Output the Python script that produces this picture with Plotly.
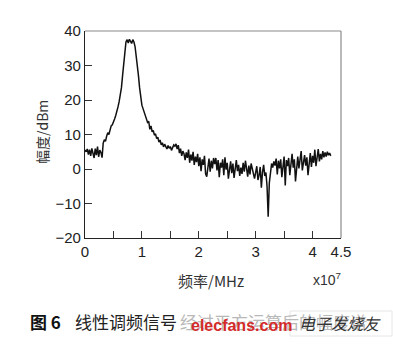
import plotly.graph_objects as go

# amplitude spectrum (dBm), sampled every 0.02 x 1e7 Hz starting at 0
amp_dbm = [
    5.5, 5, 5.8, 4.2, 5.6, 3.8, 6, 4.5, 3.2, 5.9,
    4, 6.5, 3.5, 5.5, 4.8, 3.3, 7.5, 8.5, 8, 9.5,
    10.5, 10, 11.5, 12.5, 12.8, 13.5, 14.5, 15.5, 16.5, 18,
    19.5, 21, 23.5, 27, 31, 34.5, 36.8, 37.5, 36.5, 37.6,
    37, 36.4, 37.5, 36.8, 35.5, 33, 30, 27, 23.5, 20.5,
    18.5, 17.5, 16.5, 15.8, 14.5, 13.5, 13.8, 11.5, 12.5, 10.8,
    11.2, 9.8, 10.2, 8.8, 9.2, 7.8, 8.4, 7, 7.6, 6.4,
    7.2, 6.6, 5.8, 6.8, 6, 6.5, 5.4, 6.2, 7, 6.6,
    7.3, 5.8, 6.9, 4.6, 5.9, 3.8, 5.2, 4.4, 2.6, 4.8,
    3.2, 5.6, 1.8, 4.2, 2.4, 5, 1.2, 3.6, 2, 4.4,
    0.8, 3.4, -0.6, 2.8, 1.2, 3.8, -1.4, -2.2, 1.6, 3,
    -0.8, 2.4, 0.2, 3.2, 1.4, 3.2, -0.4, 2.6, -2.4, 1.8,
    0.4, 2.8, -1.8, 3.4, -0.2, 1.8, -2.8, 0.6, 2.2, -1.2,
    1.6, -2.6, 0.8, 2.6, -0.6, 1.2, -2, 0.4, -1.4, 1.8,
    -0.8, 2.4, 0.2, -2.2, 1, -1.6, 1.6, 0.4, -0.8, -2.8,
    -1, 0.8, -3.2, -1.8, 0.6, -5.4, -1, 1.2, -2, -1,
    -5, -13.8, -4, -0.8, 1.6, 0.4, 2.2, 1, 3, -1.6,
    2.4, 0.2, 2.8, -2.4, 1.8, 3.6, -4.8, 2.6, 0.8, 3.2,
    -1.8, 2, 4.4, 0.4, 2.8, -3.6, 1.2, 3.6, 0.2, 2.4,
    5.2, -0.4, 2, 4, 1, 3.4, -1.8, 2.6, 4.6, 0.6,
    3.8, 1.8, 5.6, 0.8, 3, 5.8, 2.2, 4.4, 2.8, 5.2,
    3.4, 4.8, 3.6, 5, 4, 4.6, 3.8,
]
freq_step = 0.02
freq_e7 = [round(i * freq_step, 2) for i in range(len(amp_dbm))]

x_tickvals = [0, 0.5, 1, 1.5, 2, 2.5, 3, 3.5, 4, 4.5]
x_ticktext = ["0", "", "1", "", "2", "", "3", "", "4", "4.5"]
y_tickvals = [-20, -10, 0, 10, 20, 30, 40]

L, R, T, B = 85, 341, 31, 238
W, H = 393, 345


def px(xp):
    return (xp - L) / (R - L)


def py(yp):
    return (B - yp) / (B - T)


fig = go.Figure()
fig.add_trace(go.Scatter(
    x=freq_e7, y=amp_dbm, mode="lines",
    line=dict(color="#111111", width=1.5),
    hoverinfo="skip", showlegend=False,
))

tick_font = dict(family="Liberation Sans, Arial, sans-serif", size=15, color="#222222")
fig.update_layout(
    width=W, height=H,
    margin=dict(l=L, r=W - R, t=T, b=H - B),
    paper_bgcolor="white", plot_bgcolor="white",
    xaxis=dict(
        range=[0, 4.5], tickmode="array", tickvals=x_tickvals, ticktext=x_ticktext,
        ticks="inside", ticklen=7, tickwidth=1, tickcolor="#333333",
        showline=True, linecolor="#222222", linewidth=1.3,
        showgrid=False, zeroline=False, tickfont=tick_font,
    ),
    yaxis=dict(
        range=[-20, 40], tickmode="array", tickvals=y_tickvals,
        ticks="inside", ticklen=7, tickwidth=1, tickcolor="#333333",
        showline=True, linecolor="#222222", linewidth=1.3,
        showgrid=False, zeroline=False, tickfont=tick_font,
    ),
    shapes=[
        dict(type="line", xref="paper", yref="paper", x0=0, x1=1, y0=1, y1=1,
             line=dict(color="#8a8a8a", width=1.2)),
        dict(type="line", xref="paper", yref="paper", x0=1, x1=1, y0=0, y1=1,
             line=dict(color="#8a8a8a", width=1.2)),
        dict(type="rect", xref="paper", yref="paper", x0=px(290), x1=px(392),
             y0=py(336), y1=py(311), line=dict(color="#e6e6e6", width=1)),
    ],
)

cjk = "Noto Sans CJK SC"
ann = [
    dict(text="幅度/dBm", x=px(42), y=py(132), textangle=-90,
         font=dict(family=cjk + ", Liberation Sans", size=14, color="#333333")),
    dict(text="频率/MHz", x=px(211), y=py(280),
         font=dict(family=cjk + ", Liberation Sans", size=15, color="#333333")),
    dict(text="x10<sup>7</sup>", x=px(327), y=py(279),
         font=dict(family="Liberation Sans, Arial", size=14, color="#333333")),
    dict(text="<b>图 6</b>", x=px(28), y=py(321), xanchor="left",
         font=dict(family=cjk, size=17, color="#111111")),
    dict(text="线性调频信号", x=px(73), y=py(321), xanchor="left",
         font=dict(family=cjk, size=17, color="#222222")),
    dict(text="经过平方运算后的幅度谱", x=px(178), y=py(321), xanchor="left",
         font=dict(family=cjk, size=17, color="#b8b8b8")),
    dict(text="<b>elecfans.com</b>", x=px(241), y=py(325),
         font=dict(family="Liberation Sans, Arial", size=16, color="#d42a2a")),
    dict(text="<i>电子发烧友</i>", x=px(340), y=py(323),
         font=dict(family=cjk, size=16, color="#333333")),
]
for a in ann:
    a.update(xref="paper", yref="paper", showarrow=False)
    a.setdefault("xanchor", "center")
    a.setdefault("yanchor", "middle")
fig.update_layout(annotations=ann)

fig.write_html("out.html")
